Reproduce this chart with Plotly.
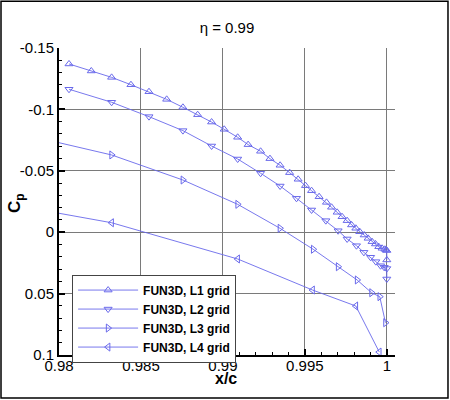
import plotly.graph_objects as go

# Cp near the trailing edge, eta = 0.99, four grid levels
x_l1 = [0.98061, 0.98197, 0.98321, 0.98439, 0.98549, 0.98657, 0.98756, 0.98846,
        0.98931, 0.99008, 0.99090, 0.99154, 0.99230, 0.99287, 0.99349, 0.99407,
        0.99459, 0.99504, 0.99541, 0.99587, 0.99632, 0.99663, 0.99697, 0.99727,
        0.99758, 0.99785, 0.99811, 0.99835, 0.99862, 0.99886, 0.99910, 0.99931,
        0.99951, 0.99971, 0.99988, 0.99997, 1.0, 1.0]
cp_l1 = [-0.1370, -0.1313, -0.1261, -0.1201, -0.1144, -0.1082, -0.1017, -0.0957,
         -0.0897, -0.0838, -0.0773, -0.0713, -0.0659, -0.0599, -0.0545, -0.0485,
         -0.0431, -0.0379, -0.0338, -0.0289, -0.0243, -0.0203, -0.0162, -0.0126,
         -0.0094, -0.0059, -0.0032, -0.0004, 0.0023, 0.0050, 0.0077, 0.0096,
         0.0118, 0.0131, 0.0139, 0.0145, 0.0149, 0.0226]

x_l2 = [0.98061, 0.98321, 0.98549, 0.98756, 0.98931, 0.99090, 0.99230, 0.99349,
        0.99449, 0.99541, 0.99628, 0.99703, 0.99758, 0.99815, 0.99860, 0.99901,
        0.99933, 0.99962, 0.99984, 1.0, 1.0]
cp_l2 = [-0.1164, -0.1058, -0.0941, -0.0827, -0.0702, -0.0596, -0.0480, -0.0376,
         -0.0276, -0.0181, -0.0094, -0.0012, 0.0055, 0.0110, 0.0164, 0.0204,
         0.0240, 0.0273, 0.0286, 0.0296, 0.0381]

x_l3 = [0.97884, 0.98321, 0.98756, 0.99090, 0.99348, 0.99551, 0.99703, 0.99819,
        0.99907, 0.99957, 0.99992]
cp_l3 = [-0.0765, -0.0629, -0.0425, -0.0227, -0.0032, 0.0139, 0.0281, 0.0389,
         0.0493, 0.0525, 0.0737]

x_l4 = [0.97884, 0.98321, 0.99090, 0.99547, 0.99811, 0.99954]
cp_l4 = [-0.0182, -0.0077, 0.0218, 0.0471, 0.0601, 0.0976]

names = ["FUN3D, L1 grid", "FUN3D, L2 grid", "FUN3D, L3 grid", "FUN3D, L4 grid"]
symbols = ["triangle-up-open", "triangle-down-open",
           "triangle-right-open", "triangle-left-open"]

x_ticks = [0.98, 0.985, 0.99, 0.995, 1.0]
x_ticktext = ["0.98", "0.985", "0.99", "0.995", "1"]
y_ticks = [-0.15, -0.1, -0.05, 0, 0.05, 0.1]
y_ticktext = ["-0.15", "-0.1", "-0.05", "0", "0.05", "0.1"]

blue = "rgb(105,105,235)"
font = "Liberation Sans, Arial, sans-serif"

fig = go.Figure()
series = [(x_l1, cp_l1), (x_l2, cp_l2), (x_l3, cp_l3), (x_l4, cp_l4)]
for (xs, ys), nm, sym in zip(series, names, symbols):
    fig.add_trace(go.Scatter(
        x=xs, y=ys, name=nm, mode="lines+markers",
        line=dict(color=blue, width=0.9),
        marker=dict(symbol=sym, size=7, color=blue, line=dict(width=1, color=blue)),
    ))

fig.update_layout(
    width=450, height=400,
    margin=dict(l=59, r=55, t=48, b=45, autoexpand=False),
    paper_bgcolor="white", plot_bgcolor="white",
    font=dict(family=font, size=15, color="black"),
    title=dict(text="\u03b7 = 0.99", x=0.5, xref="paper", xanchor="center",
               y=0.93, yref="container", yanchor="middle",
               font=dict(size=15)),
    showlegend=True,
    legend=dict(x=0.039, y=0.262, xanchor="left", yanchor="top",
                bgcolor="white", bordercolor="#444", borderwidth=1,
                font=dict(size=12, family=font, weight="bold"),
                itemwidth=60, tracegroupgap=0),
    # black frame round the whole picture
    shapes=[dict(type="rect", xref="paper", yref="paper",
                 x0=-0.1726, x1=1.1577, y0=-0.140, y1=1.152,
                 line=dict(color="black", width=1.5), layer="above")],
    annotations=[
        dict(text="<b>x/c</b>", xref="paper", yref="paper", x=0.497, y=-0.076,
             xanchor="center", yanchor="middle", showarrow=False,
             font=dict(size=16)),
        dict(text="<b>C<sub>p</sub></b>", xref="paper", yref="paper", x=-0.128, y=0.495,
             xanchor="center", yanchor="middle", showarrow=False, textangle=-90,
             font=dict(size=17)),
    ],
)

fig.update_xaxes(
    range=[0.98, 1.0005], automargin=False,
    tickmode="array", tickvals=x_ticks, ticktext=x_ticktext,
    ticks="inside", ticklen=6, tickwidth=1.5, tickcolor="black",
    ticklabelstandoff=-4,
    minor=dict(tickmode="linear", tick0=0.98, dtick=0.001, ticks="inside",
               ticklen=3, tickwidth=1, tickcolor="black", showgrid=False),
    showline=True, linecolor="black", linewidth=2, mirror=False,
    showgrid=True, gridcolor="#7a7a7a", gridwidth=1.4, zeroline=False,
)
fig.update_yaxes(
    range=[0.1, -0.15], automargin=False,
    tickmode="array", tickvals=y_ticks, ticktext=y_ticktext,
    ticks="inside", ticklen=6, tickwidth=1.5, tickcolor="black",
    minor=dict(tickmode="linear", tick0=-0.15, dtick=0.01, ticks="inside",
               ticklen=3, tickwidth=1, tickcolor="black", showgrid=False),
    showline=True, linecolor="black", linewidth=2, mirror=False,
    showgrid=True, gridcolor="#7a7a7a", gridwidth=1.4, zeroline=False,
)

# page body has a default margin; drop it so the figure sits at the window corner
fig.write_html("out.html", config={"displayModeBar": False},
               post_script="document.body.style.margin='0';")
